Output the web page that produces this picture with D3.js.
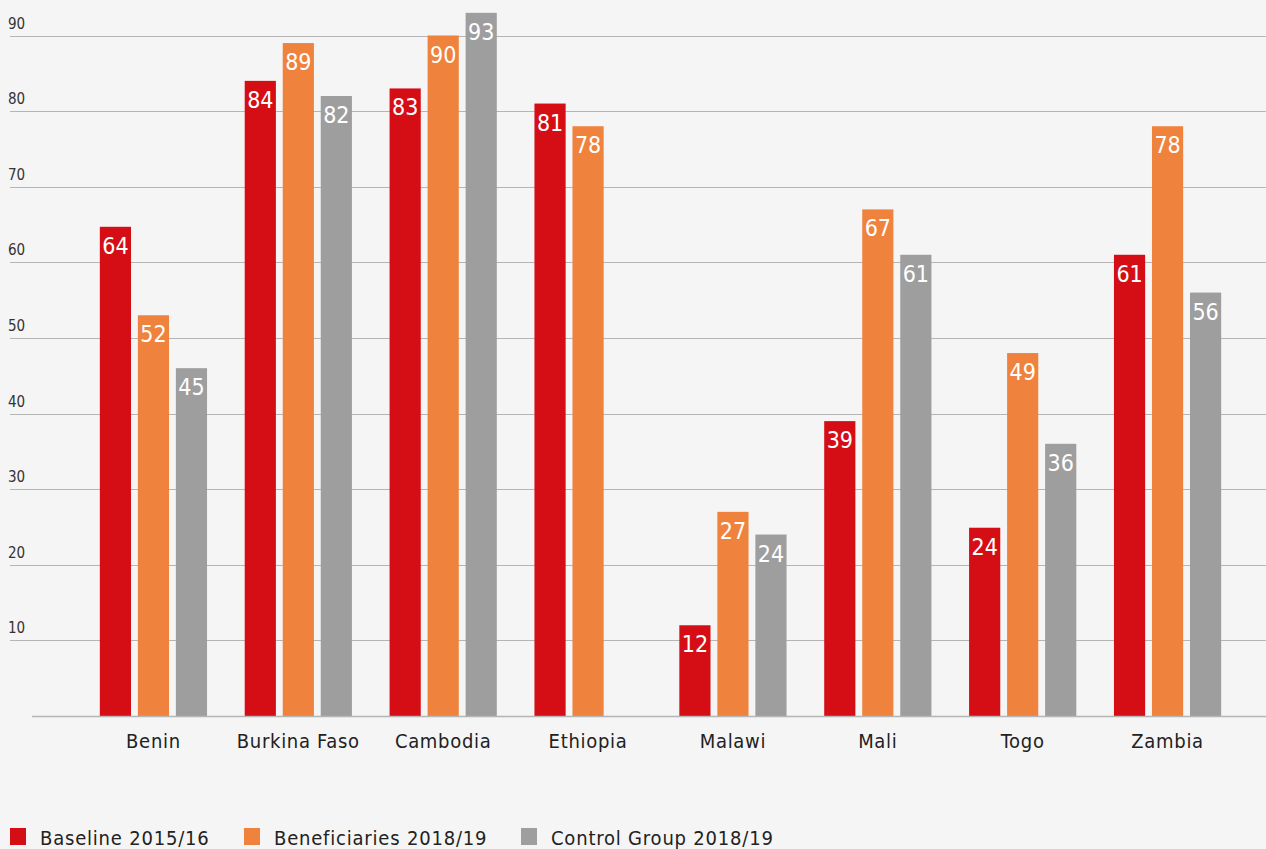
<!DOCTYPE html>
<html>
<head>
<meta charset="utf-8">
<script src="https://cdn.jsdelivr.net/npm/d3@7"></script>
<style>
  html, body { margin: 0; padding: 0; background: #f5f5f5; }
  svg { display: block; font-family: "DejaVu Sans Condensed", "Roboto", sans-serif; }
</style>
</head>
<body>
<svg id="chart" width="1266" height="849"></svg>
<script>
// categories and series
var countries = ["Benin", "Burkina Faso", "Cambodia", "Ethiopia", "Malawi", "Mali", "Togo", "Zambia"];
var seriesNames = ["Baseline 2015/16", "Beneficiaries 2018/19", "Control Group 2018/19"];
var seriesColors = ["#d50e15", "#ef823c", "#9e9e9e"];

// bar heights as drawn
var baseline = [64.7, 84, 83, 81, 12, 39, 24.9, 61];
var beneficiaries = [53, 89, 90, 78, 27, 67, 48, 78];
var control = [46, 82, 93, null, 24, 61, 36, 56];

// numbers printed on the bars
var baselineLabels = [64, 84, 83, 81, 12, 39, 24, 61];
var beneficiariesLabels = [52, 89, 90, 78, 27, 67, 49, 78];
var controlLabels = [45, 82, 93, null, 24, 61, 36, 56];

var yTicks = [10, 20, 30, 40, 50, 60, 70, 80, 90];

var svg = d3.select("#chart");

var x0 = d3.scaleBand()
    .domain(countries)
    .range([81, 1240])
    .paddingInner(0.26)
    .paddingOuter(0.13);

var x1 = d3.scaleBand()
    .domain([0, 1, 2])
    .range([0, x0.bandwidth()])
    .paddingInner(0.18);

var y = d3.scaleLinear()
    .domain([0, 90])
    .range([716, 35.5]);

//gridlines and tick labels
var grid = svg.append("g");
grid.selectAll("line")
    .data(yTicks)
    .enter()
    .append("line")
    .attr("x1", 10)
    .attr("x2", 1266)
    .attr("y1", function (d) { return Math.round(y(d)) + 0.5; })
    .attr("y2", function (d) { return Math.round(y(d)) + 0.5; })
    .attr("stroke", "#b5b5b5")
    .attr("stroke-width", 1.2);

grid.selectAll("text")
    .data(yTicks)
    .enter()
    .append("text")
    .attr("x", 8)
    .attr("y", function (d) { return y(d) - 7; })
    .attr("font-size", 15)
    .attr("fill", "#333")
    .text(function (d) { return d; });

//bars
var series = [
    { values: baseline, labels: baselineLabels },
    { values: beneficiaries, labels: beneficiariesLabels },
    { values: control, labels: controlLabels }
];

var cells = [];
series.forEach(function (s, si) {
    countries.forEach(function (c, ci) {
        if (s.values[ci] != null) {
            cells.push({ country: c, series: si, value: s.values[ci], label: s.labels[ci] });
        }
    });
});

svg.append("g").selectAll("rect")
    .data(cells)
    .enter()
    .append("rect")
    .attr("x", function (d) { return x0(d.country) + x1(d.series); })
    .attr("y", function (d) { return y(d.value); })
    .attr("width", x1.bandwidth())
    .attr("height", function (d) { return y(0) - y(d.value); })
    .attr("fill", function (d) { return seriesColors[d.series]; });

svg.append("g").selectAll("text")
    .data(cells)
    .enter()
    .append("text")
    .attr("x", function (d) { return x0(d.country) + x1(d.series) + x1.bandwidth() / 2; })
    .attr("y", function (d) { return y(d.value) + 27; })
    .attr("text-anchor", "middle")
    .attr("font-size", 23)
    .attr("fill", "#fff")
    .text(function (d) { return d.label; });

//zero line
svg.append("line")
    .attr("x1", 32)
    .attr("x2", 1266)
    .attr("y1", y(0) + 0.5)
    .attr("y2", y(0) + 0.5)
    .attr("stroke", "#b5b5b5")
    .attr("stroke-width", 1.5);

//category labels
svg.append("g").selectAll("text")
    .data(countries)
    .enter()
    .append("text")
    .attr("x", function (d) { return x0(d) + x0.bandwidth() / 2; })
    .attr("y", 748)
    .attr("text-anchor", "middle")
    .attr("font-size", 20)
    .attr("letter-spacing", 0.7)
    .attr("fill", "#222")
    .text(function (d) { return d; });

//legend
var legendX = [10, 244, 521];
var legend = svg.append("g").selectAll("g")
    .data(seriesNames)
    .enter()
    .append("g")
    .attr("transform", function (d, i) { return "translate(" + legendX[i] + ",828)"; });

legend.append("rect")
    .attr("width", 16)
    .attr("height", 17)
    .attr("fill", function (d, i) { return seriesColors[i]; });

legend.append("text")
    .attr("x", 30)
    .attr("y", 17)
    .attr("font-size", 20)
    .attr("letter-spacing", 0.8)
    .attr("fill", "#222")
    .text(function (d) { return d; });
</script>
</body>
</html>
